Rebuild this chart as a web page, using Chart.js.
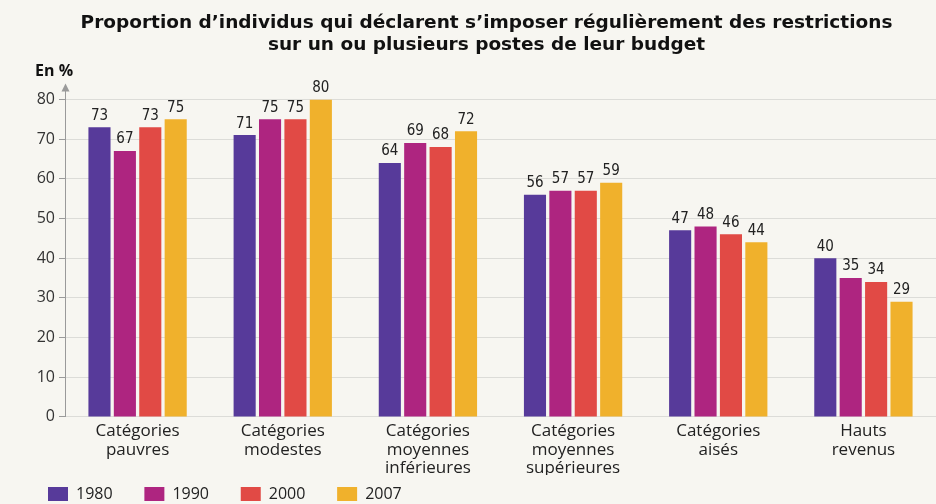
<!DOCTYPE html>
<html>
<head>
<meta charset="utf-8">
<script src="https://cdn.jsdelivr.net/npm/chart.js@4.4.1/dist/chart.umd.min.js"></script>
<style>
  html, body { margin: 0; padding: 0; background: #f7f6f1; }
  #wrap { width: 936px; height: 504px; }
</style>
</head>
<body>
<div id="wrap"><canvas id="chart" width="936" height="504"></canvas></div>
<script>
// data
const categories = [
  ['Catégories', 'pauvres'],
  ['Catégories', 'modestes'],
  ['Catégories', 'moyennes', 'inférieures'],
  ['Catégories', 'moyennes', 'supérieures'],
  ['Catégories', 'aisés'],
  ['Hauts', 'revenus']
];
const years = ['1980', '1990', '2000', '2007'];
const values1980 = [73, 71, 64, 56, 47, 40];
const values1990 = [67, 75, 69, 57, 48, 35];
const values2000 = [73, 75, 68, 57, 46, 34];
const values2007 = [75, 80, 72, 59, 44, 29];
const yTicks = [0, 10, 20, 30, 40, 50, 60, 70, 80];

const colors = ['#573a9a', '#ae2580', '#e14a45', '#f0b12c'];
const series = [values1980, values1990, values2000, values2007];

const condensed = '"Liberation Sans Narrow", "DejaVu Sans Condensed", sans-serif';

// value labels above bars, the "En %" caption and the arrow on the y axis
const extras = {
  id: 'extras',
  afterDatasetsDraw(chart) {
    const ctx = chart.ctx;
    ctx.save();
    ctx.fillStyle = '#222';
    ctx.font = '15px ' + condensed;
    ctx.textAlign = 'center';
    ctx.textBaseline = 'bottom';
    chart.data.datasets.forEach((ds, i) => {
      chart.getDatasetMeta(i).data.forEach((bar, j) => {
        ctx.fillText(ds.data[j], bar.x, bar.y - 4);
      });
    });

    const area = chart.chartArea;
    ctx.strokeStyle = '#9a9a9a';
    ctx.lineWidth = 1;
    ctx.beginPath();
    ctx.moveTo(area.left + 0.5, area.top);
    ctx.lineTo(area.left + 0.5, area.top - 10);
    ctx.stroke();
    ctx.fillStyle = '#9a9a9a';
    ctx.beginPath();
    ctx.moveTo(area.left + 0.5, area.top - 16);
    ctx.lineTo(area.left - 3.5, area.top - 8);
    ctx.lineTo(area.left + 4.5, area.top - 8);
    ctx.closePath();
    ctx.fill();

    ctx.fillStyle = '#111';
    ctx.font = 'bold 16px "Open Sans", sans-serif';
    ctx.textAlign = 'left';
    ctx.textBaseline = 'middle';
    ctx.fillText('En %', 35, area.top - 28);
    ctx.restore();
  }
};

new Chart(document.getElementById('chart'), {
  type: 'bar',
  data: {
    labels: categories,
    datasets: years.map((y, i) => ({
      label: y,
      data: series[i],
      backgroundColor: colors[i],
      categoryPercentage: 0.70,
      barPercentage: 0.87
    }))
  },
  options: {
    responsive: false,
    animation: false,
    layout: { padding: { left: 37, right: 0, top: 4, bottom: -8 } },
    plugins: {
      title: {
        display: true,
        text: ['Proportion d’individus qui déclarent s’imposer régulièrement des restrictions',
               'sur un ou plusieurs postes de leur budget'],
        font: { family: '"DejaVu Sans", sans-serif', size: 18.5, weight: 'bold' },
        color: '#111',
        lineHeight: 1.19,
        padding: { top: 8, bottom: 43 }
      },
      legend: {
        position: 'bottom',
        align: 'start',
        labels: {
          boxWidth: 20,
          boxHeight: 14,
          padding: 11,
          color: '#222',
          font: { family: '"Open Sans", sans-serif', size: 16 },
          // trailing spaces give the wide gaps between legend items
          generateLabels: chart => chart.data.datasets.map((ds, i) => ({
            text: ds.label + '     ',
            fillStyle: ds.backgroundColor,
            strokeStyle: ds.backgroundColor,
            lineWidth: 0,
            datasetIndex: i,
            fontColor: '#222'
          }))
        }
      },
      tooltip: { enabled: false }
    },
    scales: {
      x: {
        grid: { display: false },
        border: { display: false },
        ticks: {
          color: '#222',
          font: { family: '"Open Sans", sans-serif', size: 17, lineHeight: 1.1 },
          maxRotation: 0,
          padding: -3
        }
      },
      y: {
        min: 0,
        max: 80,
        afterBuildTicks: s => { s.ticks = yTicks.map(v => ({ value: v })); },
        afterFit: s => { s.width = 28; },
        grid: {
          color: '#dcdcd8',
          tickLength: 6,
          tickColor: '#9a9a9a'
        },
        border: { color: '#9a9a9a' },
        ticks: {
          color: '#333',
          font: { family: '"Open Sans", sans-serif', size: 16 },
          padding: 4
        }
      }
    }
  },
  plugins: [extras]
});
</script>
</body>
</html>
